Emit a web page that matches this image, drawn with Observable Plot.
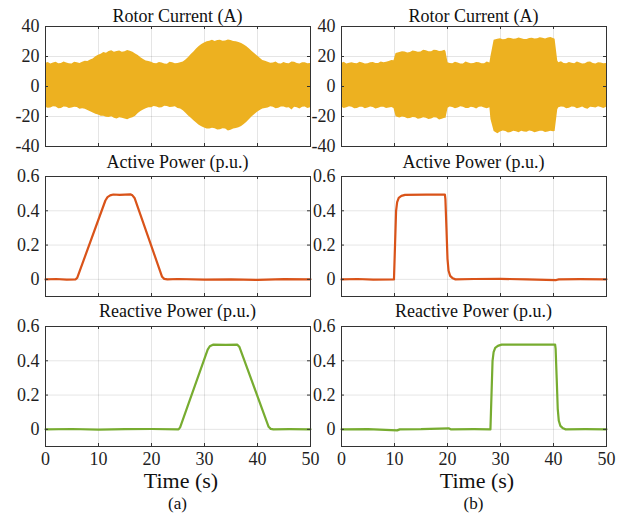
<!DOCTYPE html>
<html><head><meta charset="utf-8">
<script src="https://cdn.jsdelivr.net/npm/d3@7"></script>
<script src="https://cdn.jsdelivr.net/npm/@observablehq/plot@0.6"></script>
<style>
body{margin:0;background:#fff;}
#c{position:relative;width:626px;height:516px;overflow:hidden;font-family:"Liberation Serif","Times New Roman","DejaVu Serif",serif;color:#111;}
#c svg, #c svg text{font-family:"Liberation Serif","Times New Roman","DejaVu Serif",serif !important;}
.t{position:absolute;white-space:nowrap;transform:translateX(-50%);font-family:"Liberation Serif","Times New Roman","DejaVu Serif",serif !important;}
.p{position:absolute;}
</style></head><body><div id="c"></div>
<script>
// ---------- data ----------
const xTicks = [0, 10, 20, 30, 40, 50];
const currentTicks = [-40, -20, 0, 20, 40];
const powerTicks = [0, 0.2, 0.4, 0.6];
const panelTitles = ["Rotor Current (A)", "Active Power (p.u.)", "Reactive Power (p.u.)"];
const columnLabels = ["(a)", "(b)"];
const xLabel = "Time (s)";

// Rotor current envelope, case (a)
const curA_t  = [0,0.5,1,1.5,2,2.5,3,3.5,4,4.5,5,5.5,6,6.5,7,7.5,8,8.5,9,9.5,10,10.5,11,11.5,12,12.5,13,13.5,14,14.5,15,15.5,16,16.5,17,17.5,18,18.5,19,19.5,20,20.5,21,21.5,22,22.5,23,23.5,24,24.5,25,25.5,26,26.5,27,27.5,28,28.5,29,29.5,30,30.5,31,31.5,32,32.5,33,33.5,34,34.5,35,35.5,36,36.5,37,37.5,38,38.5,39,39.5,40,40.5,41,41.5,42,42.5,43,43.5,44,44.5,45,45.5,46,46.5,47,47.5,48,48.5,49,49.5,50];
const curA_hi = [15.4,16.0,15.0,15.6,16.1,15.2,15.3,16.3,15.7,15.1,15.0,16.2,15.9,15.4,16.2,16.8,16.6,17.6,18.4,19.9,20.9,21.5,22.6,22.2,23.3,23.9,22.8,23.4,23.7,22.9,23.1,24.0,23.5,22.8,21.6,20.6,19.2,18.0,17.0,16.7,16.1,15.4,15.2,16.0,15.6,15.0,14.9,16.2,15.8,15.1,15.3,15.9,16.4,17.6,19.4,21.3,23.0,25.0,26.6,28.0,29.0,29.9,30.2,30.9,30.0,30.6,30.8,30.1,30.3,31.0,30.6,30.0,29.8,29.4,28.6,27.7,26.5,25.0,23.4,21.8,20.4,18.8,17.4,16.9,16.2,15.5,15.6,16.3,15.2,15.0,16.0,15.4,15.1,16.4,16.2,15.3,15.0,15.9,15.8,15.1,15.3];
const curA_lo = [-13.8,-14.5,-14.3,-13.5,-13.6,-14.8,-14.6,-13.7,-13.9,-14.7,-14.4,-13.8,-14.0,-15.1,-14.9,-15.2,-16.0,-16.9,-17.6,-18.5,-19.0,-19.8,-19.9,-20.5,-20.6,-20.2,-21.1,-21.7,-20.8,-21.2,-21.6,-22.2,-21.3,-20.9,-19.8,-18.0,-16.6,-15.6,-14.9,-14.1,-14.2,-13.4,-13.7,-14.4,-14.1,-13.2,-13.4,-14.0,-13.8,-13.5,-14.6,-15.0,-16.2,-17.8,-19.6,-21.2,-22.8,-24.4,-25.8,-26.9,-27.6,-28.3,-28.4,-27.9,-28.1,-29.0,-28.8,-28.2,-28.3,-29.6,-29.1,-28.4,-28.0,-27.5,-26.6,-25.3,-23.8,-22.0,-20.2,-18.6,-17.2,-16.0,-15.0,-14.6,-14.3,-13.5,-13.8,-14.9,-14.5,-13.7,-13.6,-14.4,-14.2,-15.6,-13.9,-14.1,-15.0,-13.8,-13.7,-14.6,-14.1];

// Rotor current envelope, case (b)
const curB_t  = [0,0.5,1,1.5,2,2.5,3,3.5,4,4.5,5,5.5,6,6.5,7,7.5,8,8.5,9,9.5,9.9,10.3,11,11.5,12,12.5,13,13.5,14,14.5,15,15.5,16,16.5,17,17.5,18,18.5,19,19.5,19.7,20.1,20.5,21,21.5,22,22.5,23,23.5,24,24.5,25,25.5,26,26.5,27,27.5,28,28.2,28.8,29.5,30,30.5,31,31.5,32,32.5,33,33.5,34,34.5,35,35.5,36,36.5,37,37.5,38,38.5,39,39.5,40,40.3,40.8,41,41.5,42,42.5,43,43.5,44,44.5,45,45.5,46,46.5,47,47.5,48,48.5,49,49.5,50];
const curB_hi = [15.4,16.1,15.0,15.5,15.9,15.3,15.2,16.2,15.7,15.0,15.1,15.8,16.0,15.3,15.4,16.4,15.8,16.1,16.6,17.3,
  17.2,22.0,
  22.6,23.2,23.0,22.4,22.7,23.6,23.4,22.9,23.0,24.1,23.8,23.1,23.2,24.2,24.0,23.3,23.5,24.1,
  23.3,15.8,
  15.3,15.2,16.1,15.6,15.0,15.0,16.3,15.7,15.1,15.3,16.0,15.9,15.2,15.1,16.4,15.6,
  20.0,30.8,31.5,
  31.8,31.2,31.3,32.1,32.0,31.5,31.6,32.3,31.9,31.4,31.4,32.0,32.2,31.6,31.8,32.5,32.1,31.7,32.4,32.6,32.0,
  31.5,17.0,
  15.8,16.5,15.4,15.2,16.0,15.5,15.1,16.4,15.7,15.0,15.2,16.1,16.3,15.4,15.0,15.8,15.6,15.2,15.4];
const curB_lo = [-13.7,-14.6,-14.2,-13.5,-13.8,-14.9,-14.6,-13.8,-13.9,-14.8,-14.4,-13.6,-14.0,-15.0,-14.5,-13.9,-13.8,-14.7,-14.3,-14.0,
  -14.6,-20.2,
  -21.0,-20.4,-20.6,-21.5,-21.3,-20.7,-20.9,-21.9,-21.5,-20.8,-21.2,-22.0,-21.6,-20.9,-21.0,-22.3,-21.8,-21.1,
  -21.4,-14.5,
  -13.6,-14.0,-14.9,-14.3,-13.5,-13.8,-14.7,-14.6,-13.9,-14.1,-15.0,-13.9,-13.7,-14.4,-14.8,-14.2,
  -22.0,-30.0,-31.5,
  -30.4,-29.6,-30.0,-31.0,-30.6,-29.9,-30.2,-30.9,-29.8,-30.3,-30.5,-29.7,-30.0,-30.8,-30.3,-29.8,-29.9,-30.7,-30.4,-29.9,-30.1,
  -30.0,-15.5,
  -14.2,-13.6,-13.9,-14.8,-14.5,-13.7,-13.8,-14.9,-14.3,-13.6,-14.7,-15.2,-13.9,-14.0,-14.4,-13.5,-14.0,-14.6,-13.8];

// Active power
const actA_t = [0,2,4,5.7,6.0,11.3,11.7,12.2,12.8,14,16,16.4,16.8,22.0,22.4,23,25,30,35,40,45,50];
const actA_p = [0,0.002,-0.002,0,0.01,0.46,0.48,0.49,0.495,0.493,0.496,0.49,0.475,0.015,0.003,0,0.002,-0.002,0,-0.003,0.001,0];
const actB_t = [0,3,6,9.9,10.1,10.3,10.5,10.8,11.3,12,16,19.5,19.6,19.8,20.0,20.2,20.5,21,21.5,25,30,35,40.5,41,45,50];
const actB_p = [0,0.002,-0.002,0,0.2,0.4,0.45,0.475,0.487,0.493,0.494,0.495,0.47,0.3,0.12,0.05,0.02,0.006,0,0.002,0.003,0,-0.004,0,0.001,0];

// Reactive power
const reaA_t = [0,5,10,15,20,25.1,25.4,30.6,31.0,31.6,34,36.2,36.6,42.1,42.5,43,46,50];
const reaA_p = [0,0.002,-0.001,0.001,0.002,0,0.012,0.465,0.485,0.494,0.493,0.494,0.48,0.015,0.003,0,0.001,0];
const reaB_t = [0,5,10.5,11,15,20.2,20.6,25,28.1,28.3,28.5,28.7,29.0,29.5,30.2,35,40.3,40.4,40.6,40.8,41.0,41.3,41.8,42.3,46,50];
const reaB_p = [0,0.001,-0.006,0,0.001,0.006,0,0.001,0,0.2,0.4,0.45,0.475,0.487,0.494,0.494,0.495,0.47,0.3,0.12,0.05,0.02,0.006,0,0.001,0];

// ---------- build ----------
const zip = (t, k, v) => t.map((d, i) => ({t: d, [k]: v[i]}));
const band = (t, hi, lo) => t.map((d, i) => ({t: d, hi: hi[i], lo: lo[i]}));

const COLORS = {current: "#EDB120", active: "#D95319", reactive: "#77AC30"};
const FONT = "'Liberation Serif','Times New Roman','DejaVu Serif',serif";
const container = document.getElementById("c");
const FRAME_W = 265, FRAME_H = 120;
const frameTops = [26, 176, 326];

function panel(col, row, dataMarks, yDomain, yTicks) {
  const left = col === 0 ? 0 : 310;
  const W = col === 0 ? 320 : 316;
  const mL = col === 0 ? 45 : 31;
  const mR = W - mL - FRAME_W;
  const mT = 5, mB = row === 2 ? 32 : 5;
  const H = mT + FRAME_H + mB;
  const marks = [
    Plot.gridX(xTicks.slice(1, -1), {stroke: "#000", strokeOpacity: 0.1}),
    Plot.gridY(yTicks, {stroke: "#000", strokeOpacity: 0.1}),
    ...dataMarks,
    Plot.tickY(yTicks, {insetRight: FRAME_W - 3, stroke: "#333"}),
    Plot.tickY(yTicks, {insetLeft: FRAME_W - 3, stroke: "#333"}),
    Plot.tickX(xTicks, {insetTop: FRAME_H - 3, stroke: "#333"}),
    Plot.tickX(xTicks, {insetBottom: FRAME_H - 3, stroke: "#333"}),
    Plot.frame({stroke: "#333", strokeWidth: 1}),
    Plot.axisY(yTicks, {tickSize: 0, tickPadding: 6, tickFormat: d => String(d), label: null, fontFamily: FONT, fontSize: 18})
  ];
  if (row === 2) marks.push(Plot.axisX(xTicks, {tickSize: 0, tickPadding: 6, tickFormat: d => String(d), label: null, fontFamily: FONT, fontSize: 18}));
  const el = Plot.plot({
    width: W, height: H,
    marginLeft: mL, marginRight: mR, marginTop: mT, marginBottom: mB,
    style: {background: "transparent", overflow: "visible", fontFamily: FONT, fontSize: "18px", color: "#1f1f1f"},
    x: row === 2 ? {domain: [0, 50]} : {domain: [0, 50], axis: null},
    y: {domain: yDomain},
    marks
  });
  el.classList.add("p");
  el.style.left = left + "px";
  el.style.top = (frameTops[row] - mT) + "px";
  container.appendChild(el);
}

panel(0, 0, [Plot.areaY(band(curA_t, curA_hi, curA_lo), {x: "t", y1: "lo", y2: "hi", fill: COLORS.current})], [-40, 40], currentTicks);
panel(1, 0, [Plot.areaY(band(curB_t, curB_hi, curB_lo), {x: "t", y1: "lo", y2: "hi", fill: COLORS.current})], [-40, 40], currentTicks);
panel(0, 1, [Plot.line(zip(actA_t, "p", actA_p), {x: "t", y: "p", stroke: COLORS.active, strokeWidth: 2.2})], [-0.1, 0.6], powerTicks);
panel(1, 1, [Plot.line(zip(actB_t, "p", actB_p), {x: "t", y: "p", stroke: COLORS.active, strokeWidth: 2.2})], [-0.1, 0.6], powerTicks);
panel(0, 2, [Plot.line(zip(reaA_t, "p", reaA_p), {x: "t", y: "p", stroke: COLORS.reactive, strokeWidth: 2.2})], [-0.1, 0.6], powerTicks);
panel(1, 2, [Plot.line(zip(reaB_t, "p", reaB_p), {x: "t", y: "p", stroke: COLORS.reactive, strokeWidth: 2.2})], [-0.1, 0.6], powerTicks);

// titles and labels (HTML text)
function label(text, cx, top, size) {
  const d = document.createElement("div");
  d.className = "t";
  d.textContent = text;
  d.style.left = cx + "px";
  d.style.top = top + "px";
  d.style.fontSize = size + "px";
  d.style.lineHeight = size + "px";
  container.appendChild(d);
}
const centers = [177.5, 473.5];
const titleTops = [6.6, 153.2, 301.6];
for (let c = 0; c < 2; c++) {
  for (let r = 0; r < 3; r++) label(panelTitles[r], centers[c], titleTops[r], 18);
  label(xLabel, centers[c] + 3.5, 470, 22);
  label(columnLabels[c], centers[c], 495, 17);
}
</script></body></html>
